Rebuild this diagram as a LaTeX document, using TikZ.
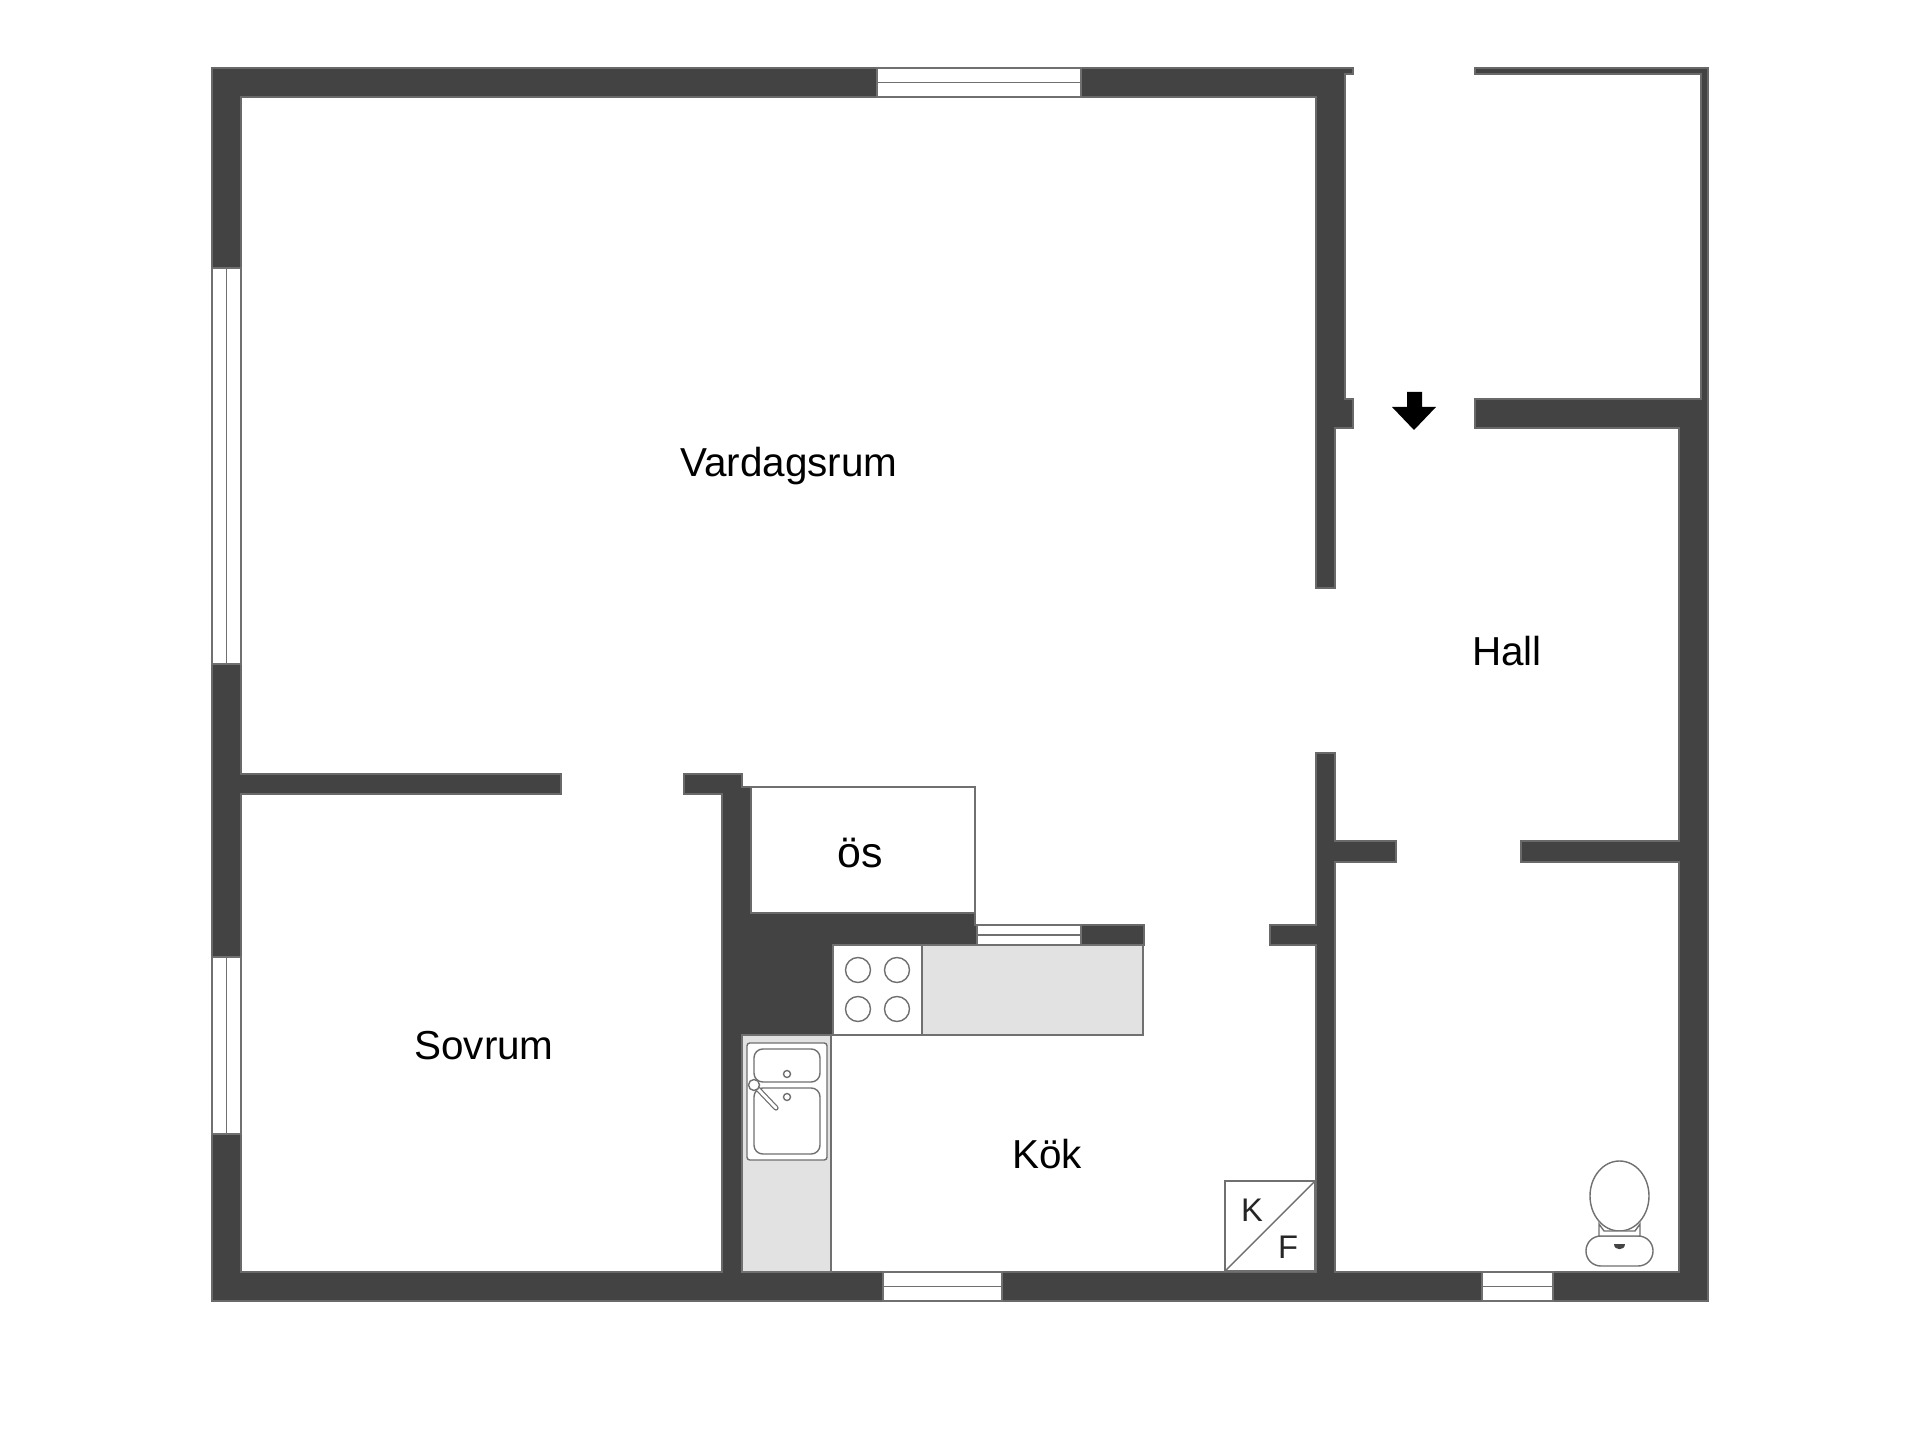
\documentclass[tikz,border=0pt]{standalone}
\usepackage{fontspec}
\setmainfont{Liberation Sans}
\definecolor{wallgrey}{HTML}{434343}
\definecolor{edgegrey}{HTML}{707070}
\definecolor{benchgrey}{HTML}{E2E2E2}
\tikzset{
  wall/.style={fill=wallgrey,draw=wallgrey!80!white,line width=0.3pt},
  fitting/.style={draw=edgegrey,line width=0.4pt},
  bench/.style={fitting,fill=benchgrey},
  room/.style={font=\fontsize{11.5}{13}\selectfont,inner sep=0pt},
  smalllabel/.style={font=\fontsize{9.3}{11}\selectfont,inner sep=0pt,text=black!85}
}
\newcommand{\planwindow}[5]{%
  \fill[white] (#1,#2) rectangle (#3,#4);
  \draw[fitting] (#1,#2) rectangle (#3,#4);
  \ifnum#5=0 \draw[fitting] ({(#1+#3)/2},#2) -- ({(#1+#3)/2},#4);
  \else \draw[fitting] (#1,{(#2+#4)/2}) -- (#3,{(#2+#4)/2}); \fi}
\begin{document}
\begin{tikzpicture}[x=0.01cm,y=-0.01cm]
\useasboundingbox (0,0) rectangle (1920,1440);
\fill[wall] (212,68) -- (1353,68) -- (1353,74) -- (1345,74) -- (1345,399) -- (1353,399) -- (1353,428) -- (1335,428)
  -- (1335,588) -- (1316,588) -- (1316,97) -- (241,97) -- (241,774) -- (561,774) -- (561,794) -- (241,794)
  -- (241,1272) -- (722,1272) -- (722,794) -- (684,794) -- (684,774) -- (742,774) -- (742,787) -- (751,787)
  -- (751,913) -- (975,913) -- (975,925) -- (1144,925) -- (1144,945) -- (833,945) -- (833,1035) -- (742,1035)
  -- (742,1272) -- (1316,1272) -- (1316,945) -- (1270,945) -- (1270,925) -- (1316,925) -- (1316,753) -- (1335,753)
  -- (1335,841) -- (1396,841) -- (1396,862) -- (1335,862) -- (1335,1272) -- (1679,1272) -- (1679,862) -- (1521,862)
  -- (1521,841) -- (1679,841) -- (1679,428) -- (1475,428) -- (1475,399) -- (1701,399) -- (1701,74) -- (1475,74)
  -- (1475,68) -- (1708,68) -- (1708,1301) -- (212,1301) -- cycle;
\planwindow{877}{68}{1081}{97}{1}
\planwindow{212}{268}{241}{664}{0}
\planwindow{212}{957}{241}{1134}{0}
\planwindow{883}{1272}{1002}{1301}{1}
\planwindow{1482}{1272}{1553}{1301}{1}
\planwindow{977}{925}{1081}{945}{1}
\draw[fitting] (751,787) -- (975,787) -- (975,913);
\draw[bench] (922,945) rectangle (1143,1035);
\draw[fitting] (833,945) rectangle (922,1035);
\foreach \cx in {858,897}
  \foreach \cy in {970,1009}
    \draw[fitting] (\cx,\cy) circle (12.5);
\draw[bench] (742,1035) rectangle (831,1272);
\draw[fitting,fill=white,rounded corners=0.8pt] (747,1043) rectangle (827,1160);
\draw[fitting,rounded corners=2.5pt] (754,1049) rectangle (820,1082);
\draw[fitting,rounded corners=2.5pt] (754,1088) rectangle (820,1154);
\draw[fitting] (787,1074) circle (3.5);
\draw[fitting] (787,1097) circle (3.5);
\draw[draw=edgegrey,line width=1.5pt,line cap=round] (757,1088) -- (776,1108);
\draw[draw=white,line width=0.8pt,line cap=round] (757,1088) -- (776,1108);
\draw[fitting,fill=white] (754,1085) circle (5.5);
\draw[fitting] (1225,1181) rectangle (1315,1271);
\draw[fitting] (1225,1271) -- (1315,1181);
\draw[fitting,fill=white,rounded corners=4.2pt] (1586,1236) rectangle (1653,1266);
\draw[fitting,fill=white] (1619.5,1196) ellipse (29.5 and 35);
\draw[fitting,fill=white] (1599,1236) -- (1599,1224) -- (1604,1231) -- (1635,1231) -- (1640,1224) -- (1640,1236) -- cycle;
\fill[wallgrey] (1614,1244) -- (1625,1244) .. controls (1625,1251) and (1614,1251) .. (1614,1244) -- cycle;
\fill[black] (1407,392) -- (1422,392) -- (1422,407) -- (1436,407) -- (1414,430) -- (1392,407) -- (1407,407) -- cycle;
\node[room] (vardagsrum) at (789,466) {Vardagsrum};
\node[room] (hall) at (1507,651) {Hall};
\node[room] (sovrum) at (484,1046) {Sovrum};
\node[room] (kok) at (1047,1154) {Kök};
\node[room,font=\fontsize{12.2}{14}\selectfont] (os) at (860,853) {ös};
\node[smalllabel] (kyl) at (1252,1210) {K};
\node[smalllabel] (frys) at (1288,1247) {F};
\end{tikzpicture}
\end{document}
